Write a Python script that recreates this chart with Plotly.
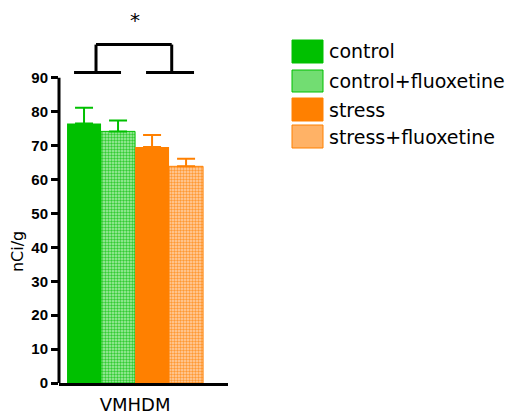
import plotly.graph_objects as go

# Data
region = ["VMHDM"]
groups = ["control", "control+fluoxetine", "stress", "stress+fluoxetine"]
means = [76.5, 74.2, 69.6, 63.9]
errors = [4.7, 3.2, 3.5, 2.2]
y_ticks = [0, 10, 20, 30, 40, 50, 60, 70, 80, 90]

# Styles
GREEN = "#00c000"
ORANGE = "#ff8000"
main_colors = [GREEN, GREEN, ORANGE, ORANGE]
patterned = [False, True, False, True]
pattern_bg = ["#00c000", "#a8eea8", "#ff8000", "#ffd2a8"]
pattern_fg = ["#00c000", "#33cc33", "#ff8000", "#ff9933"]
swatch_fill = ["#00c000", "#72dd72", "#ff8000", "#ffb266"]

W, H = 526, 417
ML, MR, MT, MB = 59, 298, 10, 34
Y_TOP = 110

fig = go.Figure()
for name, m, e, c, pat, bg, fg in zip(groups, means, errors, main_colors,
                                      patterned, pattern_bg, pattern_fg):
    marker = dict(color=bg if pat else c,
                  line=dict(color=c, width=1 if pat else 0))
    if pat:
        marker["pattern"] = dict(shape=".", size=3, solidity=0.5,
                                 fgcolor=fg, bgcolor=bg, fillmode="replace")
    fig.add_trace(go.Bar(
        x=region, y=[m], name=name, marker=marker,
        error_y=dict(type="data", symmetric=False, array=[e], arrayminus=[0],
                     color=c, thickness=2, width=9),
        showlegend=False,
    ))

shapes = []
# y-axis line spanning only the ticked range
shapes.append(dict(type="line", xref="paper", yref="y", x0=0, x1=0,
                   y0=0, y1=y_ticks[-1], line=dict(color="black", width=3)))

# significance bracket between the control pair and the stress pair
br_low, br_high = 91.6, 99.8
br = dict(color="black", width=3)
for xa, xb in [(-0.361, -0.083), (0.065, 0.349)]:
    shapes.append(dict(type="line", xref="x", yref="y", x0=xa, x1=xb,
                       y0=br_low, y1=br_low, line=br))
for xv in [-0.231, 0.217]:
    shapes.append(dict(type="line", xref="x", yref="y", x0=xv, x1=xv,
                       y0=br_low, y1=br_high, line=br))
shapes.append(dict(type="line", xref="x", yref="y", x0=-0.231, x1=0.217,
                   y0=br_high, y1=br_high, line=br))

# legend drawn with larger swatches
pw = W - ML - MR
ph = H - MT - MB


def px_x(p):
    return (p - ML) / pw


def px_y(p):
    return 1 - (p - MT) / ph


annotations = []
rows = [(40, 63), (70, 92), (98, 121), (125, 148)]
for (t, b), name, c, fill in zip(rows, groups, main_colors, swatch_fill):
    shapes.append(dict(type="rect", xref="paper", yref="paper",
                       x0=px_x(292), x1=px_x(323), y0=px_y(b), y1=px_y(t),
                       fillcolor=fill, line=dict(color=c, width=1)))
    annotations.append(dict(xref="paper", yref="paper", x=px_x(327),
                            y=px_y((t + b) / 2), text=name, showarrow=False,
                            xanchor="left", yanchor="middle",
                            font=dict(family="DejaVu Sans", size=19,
                                      color="black")))

annotations.append(dict(xref="x", yref="y", x=0.0, y=107, text="*",
                        showarrow=False, font=dict(family="DejaVu Sans",
                                                   size=20, color="black")))
annotations.append(dict(xref="paper", yref="y", x=px_x(17), y=38.6,
                        text="nCi/g", textangle=-90, showarrow=False,
                        xanchor="center", yanchor="middle",
                        font=dict(family="DejaVu Sans", size=16,
                                  color="black")))

fig.update_layout(
    width=W, height=H,
    margin=dict(l=ML, r=MR, t=MT, b=MB, autoexpand=False),
    plot_bgcolor="white", paper_bgcolor="white",
    barmode="group", bargap=0.195, bargroupgap=0,
    shapes=shapes, annotations=annotations,
    xaxis=dict(type="category", range=[-0.45, 0.55], showline=True,
               linecolor="black", linewidth=3, ticks="", showgrid=False,
               automargin=False,
               tickfont=dict(family="DejaVu Sans", size=18, color="black"),
               ticklabelstandoff=3),
    yaxis=dict(range=[0, Y_TOP], tickvals=y_ticks, showline=False,
               ticks="outside", ticklen=7, tickwidth=3, tickcolor="black",
               showgrid=False, zeroline=False, automargin=False,
               tickfont=dict(family="Liberation Sans", size=15,
                             color="black", weight="bold")),
)

fig.write_html("out.html")
